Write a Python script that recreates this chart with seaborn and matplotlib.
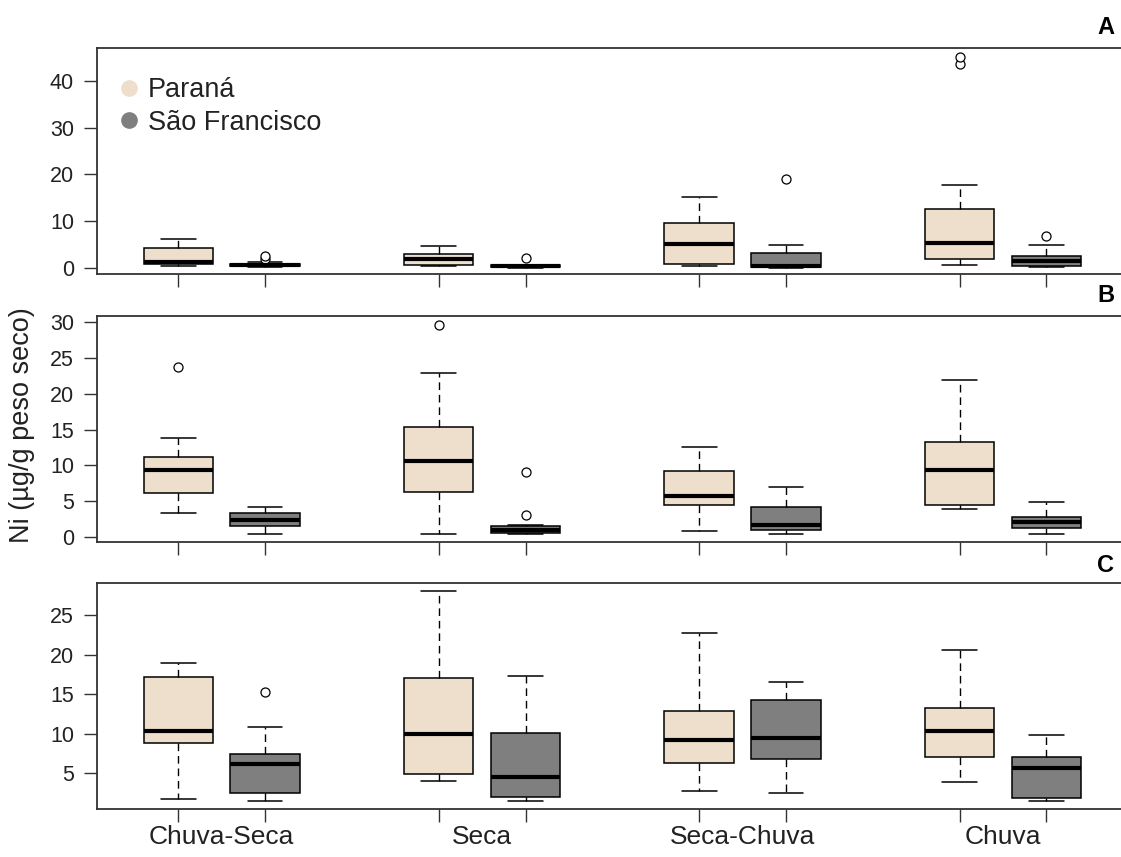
import matplotlib
matplotlib.use("Agg")
import matplotlib.pyplot as plt
from matplotlib.lines import Line2D
import pandas as pd
import seaborn as sns

# Sampling periods and rivers
periods = ["Chuva-Seca", "Seca", "Seca-Chuva", "Chuva"]
rivers = ["Paraná", "São Francisco"]
river_colors = ["#EEDFCC", "#7F7F7F"]
panel_letters = ["A", "B", "C"]

# Box summaries per period: (lower whisker, Q1, median, Q3, upper whisker)
a_parana = [(0.3, 0.86, 1.3, 4.2, 6.2), (0.35, 0.6, 2.0, 2.9, 4.6),
            (0.3, 0.86, 5.1, 9.6, 15.2), (0.64, 1.95, 5.4, 12.7, 17.7)]
a_sao_francisco = [(0.15, 0.3, 0.65, 0.9, 1.2), (0.05, 0.15, 0.35, 0.55, 0.7),
                   (0.05, 0.15, 0.4, 3.2, 4.8), (0.2, 0.36, 1.45, 2.6, 4.8)]
a_parana_out = [[], [], [], [43.6, 45.2]]
a_sao_francisco_out = [[1.95, 2.6], [2.1], [19.1], [6.8]]

b_parana = [(3.3, 6.1, 9.35, 11.2, 13.8), (0.4, 6.2, 10.6, 15.4, 22.9),
            (0.75, 4.4, 5.7, 9.2, 12.5), (3.9, 4.4, 9.35, 13.2, 22.0)]
b_sao_francisco = [(0.4, 1.45, 2.3, 3.3, 4.2), (0.38, 0.52, 0.98, 1.45, 1.6),
                   (0.4, 1.0, 1.6, 4.2, 7.0), (0.4, 1.25, 2.05, 2.75, 4.8)]
b_parana_out = [[23.8], [29.7], [], []]
b_sao_francisco_out = [[], [3.1, 9.0], [], []]

c_parana = [(1.7, 8.85, 10.3, 17.2, 18.9), (4.0, 4.85, 10.0, 17.1, 28.0),
            (2.7, 6.35, 9.15, 12.9, 22.7), (3.9, 7.0, 10.3, 13.3, 20.6)]
c_sao_francisco = [(1.55, 2.5, 6.15, 7.5, 10.8), (1.55, 2.0, 4.5, 10.1, 17.25),
                   (2.5, 6.8, 9.5, 14.3, 16.55), (1.55, 1.84, 5.7, 7.0, 9.8)]
c_parana_out = [[], [], [], []]
c_sao_francisco_out = [[15.25], [], [], []]

y_limits = [(-1.25, 47.05), (-0.7, 30.95), (0.52, 29.1)]
y_ticks = [[0, 10, 20, 30, 40], [0, 5, 10, 15, 20, 25, 30], [5, 10, 15, 20, 25]]


def expand(summary, outliers):
    """Sample whose quartiles, whisker ends and outliers equal the summary."""
    lo, q1, med, q3, hi = summary
    below = sorted(v for v in outliers if v < lo)
    above = sorted(v for v in outliers if v > hi)
    m = max(len(below), len(above)) + 1
    return (below + [lo] + [q1] * (m - len(below)) + [med] * m + [q3] * m
            + [hi] * (m - len(above)) + above)


def panel_frame(parana, parana_out, sao_francisco, sao_francisco_out):
    rows = []
    for i, period in enumerate(periods):
        for j, (summ, outs) in enumerate([(parana, parana_out),
                                          (sao_francisco, sao_francisco_out)]):
            for v in expand(summ[i], outs[i]):
                rows.append({"pos": 3 * i + 1 + j, "river": rivers[j],
                             "period": period, "value": v})
    return pd.DataFrame(rows)


frames = [
    panel_frame(a_parana, a_parana_out, a_sao_francisco, a_sao_francisco_out),
    panel_frame(b_parana, b_parana_out, b_sao_francisco, b_sao_francisco_out),
    panel_frame(c_parana, c_parana_out, c_sao_francisco, c_sao_francisco_out),
]

sns.set_style("ticks")
plt.rcParams["font.family"] = ["Liberation Sans", "DejaVu Sans"]

W, H = 1121, 857
fig = plt.figure(figsize=(W / 100, H / 100), dpi=100)
fig.patch.set_facecolor("white")

panel_px = [(96.7, 48.0, 1128.0, 273.7),
            (96.7, 315.7, 1128.0, 541.7),
            (96.7, 582.7, 1128.0, 808.7)]
letter_y = [27, 296, 566]

ink = "#222222"
box_positions = [1, 2, 4, 5, 7, 8, 10, 11]
group_centers = [1.5, 4.5, 7.5, 10.5]

for k, (df, (l, t, r, b)) in enumerate(zip(frames, panel_px)):
    ax = fig.add_axes([l / W, 1 - b / H, (r - l) / W, (b - t) / H])
    sns.boxplot(
        data=df, x="pos", y="value", hue="river", hue_order=rivers,
        palette=dict(zip(rivers, river_colors)), native_scale=True,
        dodge=False, width=0.8, saturation=1, linecolor="black",
        linewidth=1.1, whis=1.5, legend=False, ax=ax,
        medianprops=dict(color="black", linewidth=3.0, solid_capstyle="butt"),
        whiskerprops=dict(linestyle=(0, (5.5, 3.5)), linewidth=1.0),
        capprops=dict(linewidth=1.1),
        flierprops=dict(marker="o", markersize=6.5, markerfacecolor="white",
                        markeredgecolor="black", markeredgewidth=0.9),
    )
    ax.set_xlim(0.06, 11.94)
    ax.set_ylim(*y_limits[k])
    ax.set_yticks(y_ticks[k])
    ax.set_xticks(box_positions)
    ax.set_xticklabels([])
    ax.set_xlabel("")
    ax.set_ylabel("")
    for side in ["left", "top", "bottom", "right"]:
        ax.spines[side].set_color("#333333")
        ax.spines[side].set_linewidth(1.3)
    ax.tick_params(axis="both", which="major", direction="out", length=9.4,
                   width=1.0, color="#333333", labelsize=15.5, pad=7,
                   labelcolor=ink)
    if k == 2:
        ax.set_xticks(group_centers, minor=True)
        ax.set_xticklabels(periods, minor=True)
        ax.tick_params(axis="x", which="minor", length=0, pad=11.5,
                       labelsize=19, labelcolor=ink)
    fig.text(1106 / W, 1 - letter_y[k] / H, panel_letters[k], ha="center",
             va="center", fontsize=17, fontweight="bold", color="black")
    if k == 0:
        handles = [Line2D([], [], marker="o", linestyle="none", markersize=11,
                          markerfacecolor=c, markeredgecolor=c)
                   for c in river_colors]
        ax.legend(handles, rivers, loc="upper left",
                  bbox_to_anchor=(117.8 / W, 1 - 77 / H),
                  bbox_transform=fig.transFigure, frameon=False,
                  fontsize=19.5, handlelength=0.8, handletextpad=0.32,
                  labelspacing=0.25, borderpad=0, borderaxespad=0,
                  labelcolor=ink)

fig.text(22 / W, 1 - 425 / H, "Ni (µg/g peso seco)", rotation=90,
         ha="center", va="center", fontsize=19.5, color=ink)

fig.savefig("out.png", dpi=100, facecolor="white")
